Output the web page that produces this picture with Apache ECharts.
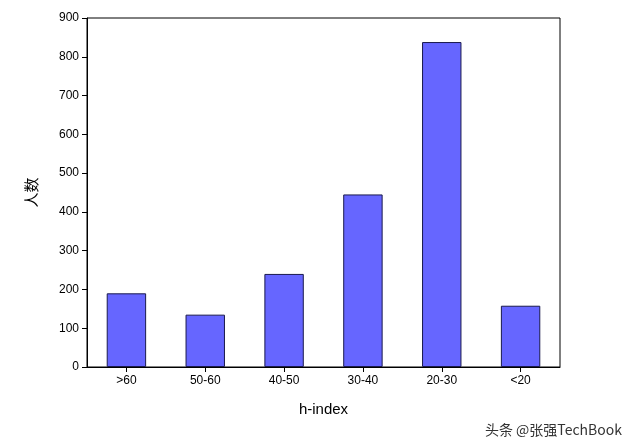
<!DOCTYPE html>
<html><head><meta charset="utf-8">
<script src="https://cdn.jsdelivr.net/npm/echarts@6/dist/echarts.min.js"></script>
<style>html,body{margin:0;padding:0;background:#fff}#c{width:640px;height:447px}</style>
</head><body><div id="c"></div>
<script>
const categories = ['>60','50-60','40-50','30-40','20-30','<20'];
const values = [190, 135, 240, 445, 838, 158];
const yTicks = [0,100,200,300,400,500,600,700,800,900];
const font = 'Liberation Sans, Arial, sans-serif';
const chart = echarts.init(document.getElementById('c'));
chart.setOption({
  animation:false,
  grid:{left:87,right:80,top:18,bottom:80,show:true,borderColor:'#000',borderWidth:1},
  xAxis:{type:'category',data:categories,name:'h-index',nameLocation:'middle',nameGap:35,
    nameTextStyle:{fontSize:15,color:'#000',fontFamily:font},
    axisLine:{lineStyle:{color:'#000'}},axisTick:{show:true,alignWithLabel:true,lineStyle:{color:'#000'}},
    axisLabel:{color:'#000',fontSize:12,fontFamily:font,margin:8}},
  yAxis:{type:'value',min:0,max:900,interval:100,name:'人数',nameLocation:'middle',nameGap:48,
    nameTextStyle:{fontSize:15,color:'#000',fontFamily:'Noto Sans CJK SC'},
    axisLine:{show:true,lineStyle:{color:'#000'}},axisTick:{show:true,lineStyle:{color:'#000'}},
    splitLine:{show:false},
    axisLabel:{color:'#000',fontSize:12,fontFamily:font,formatter:v=>yTicks.includes(v)?String(v):''}},
  series:[{type:'bar',data:values,barWidth:'50%',
    itemStyle:{color:'#6666ff',borderColor:'#1a1a4d',borderWidth:1}}],
  graphic:[{type:'text',right:18,bottom:10,style:{text:'头条 @张强TechBook',fill:'#333',
    font:'14px "Noto Sans CJK SC"'}}]
});
</script></body></html>
